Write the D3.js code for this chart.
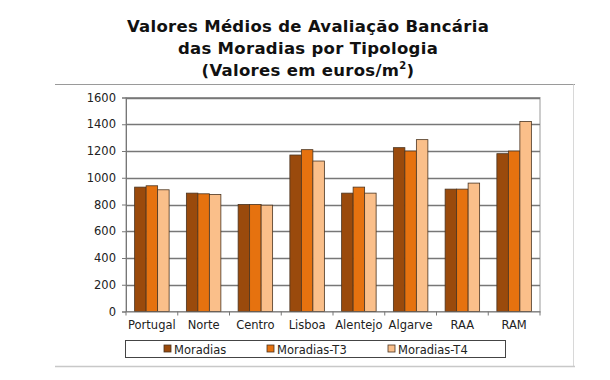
<!DOCTYPE html>
<html><head><meta charset="utf-8">
<script src="https://cdn.jsdelivr.net/npm/d3@7"></script>
<style>
body{margin:0;background:#fff;}
svg{display:block;font-family:"DejaVu Sans",Verdana,sans-serif;}
</style></head>
<body><svg id="c" width="610" height="380"></svg>
<script>
const categories = ["Portugal","Norte","Centro","Lisboa","Alentejo","Algarve","RAA","RAM"];
const seriesNames = ["Moradias","Moradias-T3","Moradias-T4"];
const moradias   = [930, 885, 800, 1170, 885, 1225, 915, 1180];
const moradiasT3 = [940, 880, 800, 1210, 930, 1200, 915, 1200];
const moradiasT4 = [910, 875, 795, 1125, 885, 1285, 960, 1420];
const yTicks = [0,200,400,600,800,1000,1200,1400,1600];
const colors = ["#9A4A0C","#E6720F","#FABF8A"];
const titleLines = ["Valores Médios de Avaliação Bancária","das Moradias por Tipologia"];

const series = [moradias, moradiasT3, moradiasT4];
const svg = d3.select("#c");
const L=126, R=540, T=97.5, B=311.5;

// outer frame lines
svg.append("line").attr("x1",55).attr("x2",575).attr("y1",84.5).attr("y2",84.5).attr("stroke","#9a9a9a").attr("stroke-width",1);
svg.append("line").attr("x1",573.5).attr("x2",573.5).attr("y1",84.5).attr("y2",366.5).attr("stroke","#d8d8d8").attr("stroke-width",1);
svg.append("line").attr("x1",55).attr("x2",575).attr("y1",366.5).attr("y2",366.5).attr("stroke","#c8c8c8").attr("stroke-width",1.5);

// title
const t = svg.append("text").attr("text-anchor","middle").attr("font-weight","bold").attr("font-size",16.5)
  .attr("letter-spacing",0.3).attr("fill","#111");
t.append("tspan").attr("x",308).attr("y",32).text(titleLines[0]);
t.append("tspan").attr("x",308).attr("y",54).text(titleLines[1]);
t.append("tspan").attr("x",308).attr("y",76).text("(Valores em euros/m");
t.append("tspan").attr("font-size",10).attr("dy",-7).text("2");
t.append("tspan").attr("dy",7).text(")");

const x = d3.scaleBand().domain(categories).range([L,R]).paddingInner(0).paddingOuter(0);
const y = d3.scaleLinear().domain([0,1600]).range([B,T]);
const bw = x.bandwidth()/4.5;

// plot border
svg.append("rect").attr("x",L).attr("y",T).attr("width",R-L).attr("height",B-T).attr("fill","none").attr("stroke","#999").attr("stroke-width",1);

// gridlines
svg.append("g").selectAll("line").data(yTicks.filter(d=>d>0)).join("line")
  .attr("x1",L).attr("x2",R).attr("y1",d=>Math.round(y(d))+0.5).attr("y2",d=>Math.round(y(d))+0.5)
  .attr("stroke","#777").attr("stroke-width",1.4);

// y axis
const ya = svg.append("g").attr("transform",`translate(${L},0)`)
  .call(d3.axisLeft(y).tickValues(yTicks).tickSize(4).tickPadding(6).tickFormat(d3.format("d")));
ya.select(".domain").attr("stroke","#777");
ya.selectAll(".tick line").attr("stroke","#777");
ya.selectAll("text").attr("font-size",11.5).attr("fill","#222").attr("font-family","DejaVu Sans");

// bars
series.forEach((s,si)=>{
  svg.append("g").selectAll("rect").data(s).join("rect")
    .attr("x",(d,i)=>x(categories[i]) + (x.bandwidth()-3*bw)/2 + si*bw)
    .attr("y",d=>y(d)).attr("width",bw).attr("height",d=>B-y(d))
    .attr("fill",colors[si]).attr("stroke","#4a3420").attr("stroke-width",0.8);
});

// x axis
const xa = svg.append("g").attr("transform",`translate(0,${B})`)
  .call(d3.axisBottom(x).tickSize(0).tickPadding(9));
xa.select(".domain").attr("stroke","#777");
xa.selectAll("text").attr("font-size",11.5).attr("fill","#222").attr("font-family","DejaVu Sans");
// category separator ticks
svg.append("g").selectAll("line").data(categories.concat(["_end"])).join("line")
  .attr("x1",(d,i)=>L+i*x.step()).attr("x2",(d,i)=>L+i*x.step())
  .attr("y1",B).attr("y2",B+4).attr("stroke","#777");

// legend
svg.append("rect").attr("x",125.5).attr("y",340.5).attr("width",380).attr("height",17).attr("fill","#fff").attr("stroke","#444").attr("stroke-width",1);
const lx = [164, 267, 388];
seriesNames.forEach((n,i)=>{
  svg.append("rect").attr("x",lx[i]).attr("y",345).attr("width",7).attr("height",7).attr("fill",colors[i]).attr("stroke","#4a3420").attr("stroke-width",0.8);
  svg.append("text").attr("x",lx[i]+10).attr("y",353.5).attr("font-size",11.5).attr("fill","#222")
    .attr("font-family","DejaVu Sans").text(n);
});
</script></body></html>
